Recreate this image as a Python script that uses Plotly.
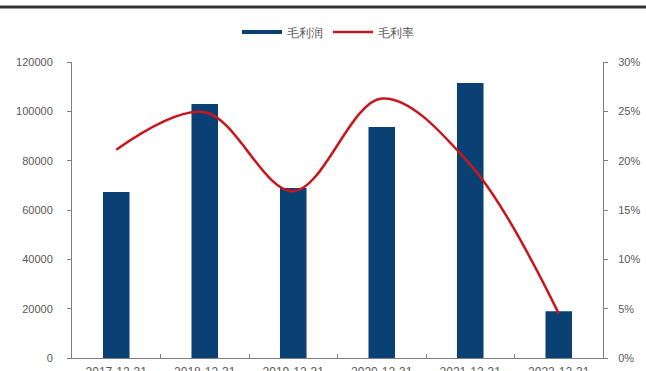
import plotly.graph_objects as go

categories = ["2017-12-31", "2018-12-31", "2019-12-31", "2020-12-31", "2021-12-31", "2022-12-31"]
gross_profit = [67300, 103000, 68900, 93600, 111500, 19000]
gross_margin = [0.211, 0.249, 0.169, 0.263, 0.196, 0.045]
left_ticks = [0, 20000, 40000, 60000, 80000, 100000, 120000]
right_ticks = [0, 0.05, 0.10, 0.15, 0.20, 0.25, 0.30]

BLUE = "#0A4175"
RED = "#C8161E"
GRAY = "#595959"
FONT = "Liberation Sans, Arial, sans-serif"

fig = go.Figure()
fig.add_trace(go.Bar(x=categories, y=gross_profit, marker_color=BLUE, width=0.3,
                     showlegend=False, name="毛利润"))
fig.add_trace(go.Scatter(x=categories, y=gross_margin, yaxis="y2", mode="lines",
                         line=dict(color=RED, width=2.5, shape="spline", smoothing=1.0),
                         showlegend=False, name="毛利率"))
# legend entries
fig.add_trace(go.Scatter(x=[None], y=[None], mode="lines", line=dict(color=BLUE, width=4), name="毛利润"))
fig.add_trace(go.Scatter(x=[None], y=[None], mode="lines", line=dict(color=RED, width=2.5), name="毛利率"))

L, R, T, B = 72, 43, 62, 13
W, H = 646, 371
pw, ph = W - L - R, H - T - B

fig.update_layout(
    template="none",
    width=W, height=H,
    margin=dict(l=L, r=R, t=T, b=B),
    paper_bgcolor="white", plot_bgcolor="white",
    font=dict(family=FONT, size=11, color=GRAY),
    legend=dict(orientation="h", x=(328 - L) / pw, xanchor="center", y=1 + (T - 32) / ph, yanchor="middle",
                font=dict(size=12, color=GRAY), itemwidth=40, bgcolor="rgba(0,0,0,0)"),
    xaxis=dict(type="category", range=[-0.5, 5.5], showline=True, linecolor="#7f7f7f", linewidth=1,
               ticks="inside", ticklen=4, tickcolor="#7f7f7f", tickson="boundaries", showgrid=False,
               zeroline=False, tickfont=dict(size=12, color=GRAY), ticklabelstandoff=3),
    yaxis=dict(range=[0, 120000], tickvals=left_ticks, tickformat="d", showline=True, linecolor="#7f7f7f",
               ticks="outside", ticklen=4, tickcolor="#7f7f7f", showgrid=False, zeroline=False,
               tickfont=dict(size=11, color=GRAY), ticklabelstandoff=12),
    yaxis2=dict(range=[0, 0.30], tickvals=right_ticks, tickformat=".0%", overlaying="y", side="right",
                showline=True, linecolor="#7f7f7f", ticks="outside", ticklen=4, tickcolor="#7f7f7f",
                showgrid=False, zeroline=False, tickfont=dict(size=11, color=GRAY), ticklabelstandoff=8),
    shapes=[dict(type="line", xref="paper", yref="paper",
                 x0=-L / pw, x1=1 + R / pw, y0=1 + (T - 7) / ph, y1=1 + (T - 7) / ph,
                 line=dict(color="#333333", width=3))],
)

fig.write_html("out.html")
